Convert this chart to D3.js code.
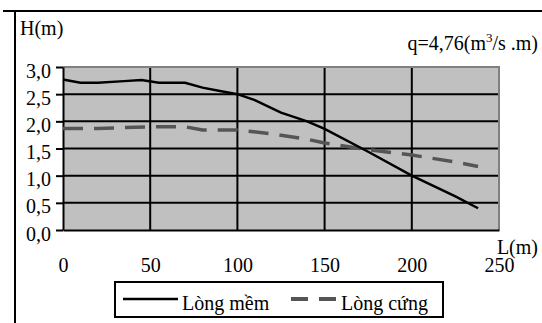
<!DOCTYPE html>
<html><head><meta charset="utf-8">
<script src="https://cdn.jsdelivr.net/npm/d3@7"></script>
</head>
<body style="margin:0">
<svg id="chart" width="542" height="323"></svg>
<script>
// Lòng mềm (solid)
var lMem = [0, 10, 20, 35, 45, 55, 70, 80, 90, 100, 110, 125, 140, 150, 175, 200, 225, 238];
var hMem = [2.77, 2.71, 2.71, 2.74, 2.76, 2.71, 2.71, 2.62, 2.56, 2.5, 2.39, 2.16, 2.0, 1.86, 1.44, 1.0, 0.62, 0.4];
// Lòng cứng (dashed)
var lCung = [0, 20, 50, 70, 80, 100, 120, 140, 150, 175, 200, 225, 238];
var hCung = [1.87, 1.87, 1.9, 1.9, 1.84, 1.84, 1.77, 1.67, 1.6, 1.48, 1.38, 1.25, 1.17];

var xTicks = [0, 50, 100, 150, 200, 250];
var yTicks = [0, 0.5, 1, 1.5, 2, 2.5, 3];
var seriesNames = ["Lòng mềm", "Lòng cứng"];

var width = 542, height = 323;
var svg = d3.select("#chart");

var x = d3.scaleLinear().domain([0, 250]).range([63, 499]);
var y = d3.scaleLinear().domain([0, 3]).range([230, 67]);
var fmt = function(d) { return d3.format(".1f")(d).replace(".", ","); };

// outer frame lines
svg.append("line").attr("x1", 3).attr("x2", width).attr("y1", 11).attr("y2", 11)
  .style("stroke", "#000").style("stroke-width", 2);
svg.append("line").attr("x1", 15).attr("x2", 15).attr("y1", 11).attr("y2", height)
  .style("stroke", "#000").style("stroke-width", 2);

// plot area
svg.append("rect").attr("x", x(0)).attr("y", y(3)).attr("width", x(250) - x(0)).attr("height", y(0) - y(3))
  .style("fill", "#c0c0c0");

// grid
svg.append("g").selectAll("line").data(yTicks.filter(function(d) { return d > 0 && d < 3; }))
  .enter().append("line")
  .attr("x1", x(0)).attr("x2", x(250)).attr("y1", function(d) { return y(d); }).attr("y2", function(d) { return y(d); })
  .style("stroke", "#000").style("stroke-width", 2);
svg.append("g").selectAll("line").data(xTicks.filter(function(d) { return d > 0 && d < 250; }))
  .enter().append("line")
  .attr("y1", y(0)).attr("y2", y(3)).attr("x1", function(d) { return x(d); }).attr("x2", function(d) { return x(d); })
  .style("stroke", "#000").style("stroke-width", 2);

// gray border top/right
svg.append("path").attr("d", "M" + x(0) + "," + y(3) + "H" + x(250) + "V" + y(0))
  .style("fill", "none").style("stroke", "#808080").style("stroke-width", 2);

// axes
var yAxis = d3.axisLeft(y).tickValues(yTicks).tickFormat(fmt).tickSize(7).tickSizeOuter(0).tickPadding(5);
var gy = svg.append("g").attr("transform", "translate(" + x(0) + ",0)").call(yAxis);
gy.attr("font-family", "Liberation Serif").attr("font-size", 20);
gy.select(".domain").style("stroke", "#000").style("stroke-width", 2);
gy.selectAll(".tick line").style("stroke", "#000").style("stroke-width", 2);
gy.selectAll(".tick text").attr("dy", "0.5em");

var xAxis = d3.axisBottom(x).tickValues(xTicks).tickSize(0).tickSizeOuter(0).tickPadding(28);
var gx = svg.append("g").attr("transform", "translate(0," + y(0) + ")").call(xAxis);
gx.attr("font-family", "Liberation Serif").attr("font-size", 20);
gx.select(".domain").style("stroke", "#000").style("stroke-width", 2);

// lines
var line = d3.line().x(function(d) { return x(d[0]); }).y(function(d) { return y(d[1]); });
svg.append("path").datum(d3.zip(lCung, hCung)).attr("d", line)
  .style("fill", "none").style("stroke", "#555").style("stroke-width", 3.5).style("stroke-dasharray", "20,11");
svg.append("path").datum(d3.zip(lMem, hMem)).attr("d", line)
  .style("fill", "none").style("stroke", "#000").style("stroke-width", 2.5);

// labels
svg.append("text").attr("x", 20).attr("y", 35).text("H(m)");
var q = svg.append("text").attr("x", 538).attr("y", 50).attr("text-anchor", "end");
q.append("tspan").text("q=4,76(m");
q.append("tspan").attr("class", "sup").attr("dy", -8).text("3");
q.append("tspan").attr("dy", 8).text("/s .m)");
svg.append("text").attr("x", 538).attr("y", 254).attr("text-anchor", "end").text("L(m)");

// legend
var lg = svg.append("g");
lg.append("rect").attr("x", 115).attr("y", 282).attr("width", 328).attr("height", 35)
  .style("fill", "#fff").style("stroke", "#000").style("stroke-width", 2);
lg.append("line").attr("x1", 123).attr("x2", 178).attr("y1", 299).attr("y2", 299)
  .style("stroke", "#000").style("stroke-width", 2.5);
lg.append("text").attr("x", 182).attr("y", 310).text(seriesNames[0]);
lg.append("line").attr("x1", 291).attr("x2", 336).attr("y1", 299).attr("y2", 299)
  .style("stroke", "#555").style("stroke-width", 4).style("stroke-dasharray", "17,11");
lg.append("text").attr("x", 341).attr("y", 310).text(seriesNames[1]);

// serif font on every text
svg.selectAll("text").style("font-family", "'Liberation Serif'").style("font-size", "20px").style("fill", "#000");
q.select(".sup").style("font-size", "13px");
</script>
</body></html>
